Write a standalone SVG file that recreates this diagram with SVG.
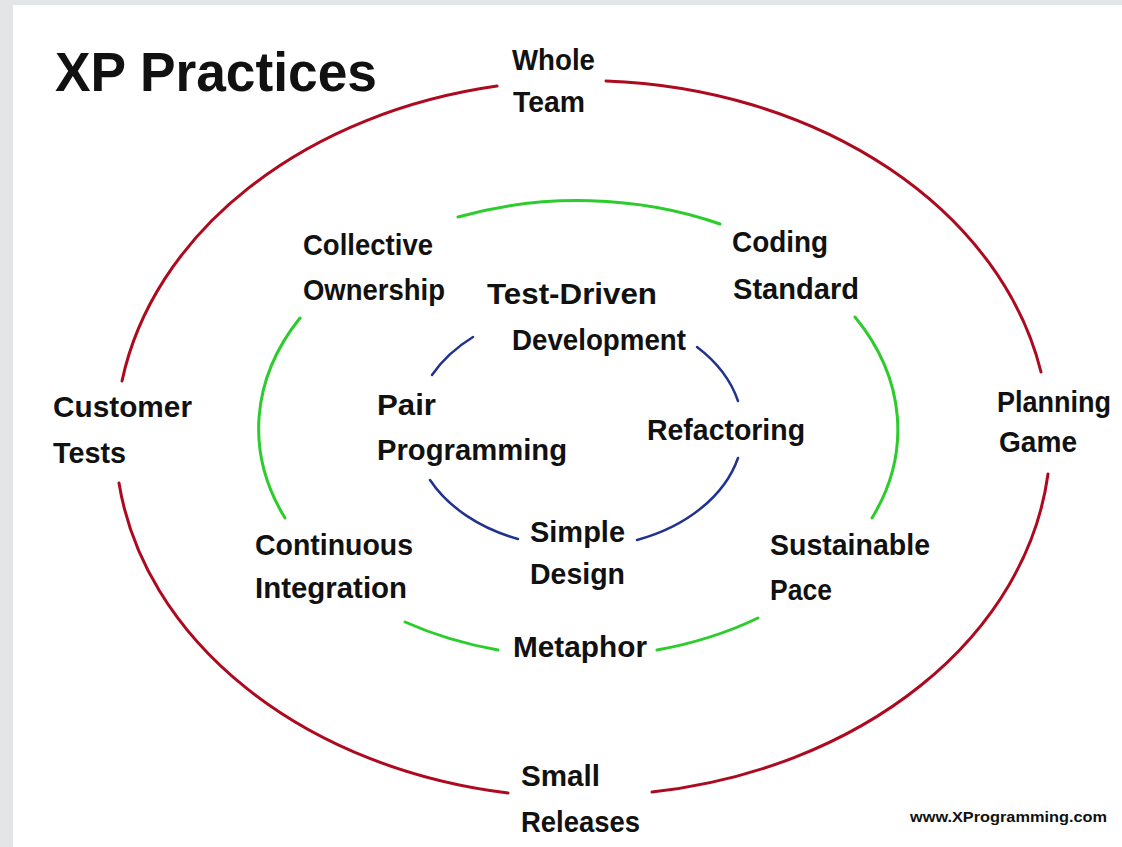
<svg xmlns="http://www.w3.org/2000/svg" width="1122" height="847" viewBox="0 0 1122 847">
<style>
.lbl{font-family:"Liberation Sans","DejaVu Sans",sans-serif;font-weight:bold;font-size:30px;fill:#111}
.title{font-family:"Liberation Sans","DejaVu Sans",sans-serif;font-weight:bold;font-size:56px;fill:#111}
.url{font-family:"Liberation Sans","DejaVu Sans",sans-serif;font-weight:bold;font-size:14px;fill:#111}
.red{fill:none;stroke:#ad0a20;stroke-width:3;stroke-linecap:round}
.green{fill:none;stroke:#2ccc2c;stroke-width:3;stroke-linecap:round}
.blue{fill:none;stroke:#22338f;stroke-width:2.5;stroke-linecap:round}
</style>
<rect x="0" y="0" width="1122" height="847" fill="#e3e5e6"/>
<rect x="13" y="5" width="1109" height="842" fill="#ffffff"/>
<text class="title" x="55" y="91" textLength="322" lengthAdjust="spacingAndGlyphs">XP Practices</text>
<g id="connectors">
<path class="red" d="M606,81 A465,359 0 0 1 1041,372"/>
<path class="red" d="M1048,474 A465,359 0 0 1 652,792"/>
<path class="red" d="M508,793 A465,359 0 0 1 119,483"/>
<path class="red" d="M122,381 A465,359 0 0 1 497,86"/>
<path class="green" d="M458,217 A320,225 0 0 1 720,224"/>
<path class="green" d="M855,317 A320,225 0 0 1 872,518"/>
<path class="green" d="M758,618 A320,225 0 0 1 657,650"/>
<path class="green" d="M498,650 A320,225 0 0 1 405,622"/>
<path class="green" d="M285,518 A320,225 0 0 1 300,318"/>
<path class="blue" d="M432,375 A163,119 0 0 1 473,337"/>
<path class="blue" d="M697,347 A163,119 0 0 1 738,401"/>
<path class="blue" d="M738,458 A163,119 0 0 1 637,540"/>
<path class="blue" d="M518,539 A163,119 0 0 1 430,480"/>
</g>
<g id="whole-team">
<text class="lbl" x="512" y="70" textLength="83" lengthAdjust="spacingAndGlyphs">Whole</text>
<text class="lbl" x="513" y="112" textLength="72" lengthAdjust="spacingAndGlyphs">Team</text>
</g>
<g id="collective-ownership">
<text class="lbl" x="303" y="255" textLength="130" lengthAdjust="spacingAndGlyphs">Collective</text>
<text class="lbl" x="303" y="300" textLength="142" lengthAdjust="spacingAndGlyphs">Ownership</text>
</g>
<g id="coding-standard">
<text class="lbl" x="732" y="252" textLength="96" lengthAdjust="spacingAndGlyphs">Coding</text>
<text class="lbl" x="733" y="299" textLength="126" lengthAdjust="spacingAndGlyphs">Standard</text>
</g>
<g id="test-driven-development">
<text class="lbl" x="487" y="304" textLength="170" lengthAdjust="spacingAndGlyphs">Test-Driven</text>
<text class="lbl" x="512" y="350" textLength="174" lengthAdjust="spacingAndGlyphs">Development</text>
</g>
<g id="pair-programming">
<text class="lbl" x="377" y="415" textLength="59" lengthAdjust="spacingAndGlyphs">Pair</text>
<text class="lbl" x="377" y="460" textLength="190" lengthAdjust="spacingAndGlyphs">Programming</text>
</g>
<g id="refactoring">
<text class="lbl" x="647" y="440" textLength="158" lengthAdjust="spacingAndGlyphs">Refactoring</text>
</g>
<g id="simple-design">
<text class="lbl" x="530" y="542" textLength="95" lengthAdjust="spacingAndGlyphs">Simple</text>
<text class="lbl" x="530" y="584" textLength="95" lengthAdjust="spacingAndGlyphs">Design</text>
</g>
<g id="continuous-integration">
<text class="lbl" x="255" y="555" textLength="158" lengthAdjust="spacingAndGlyphs">Continuous</text>
<text class="lbl" x="255" y="598" textLength="152" lengthAdjust="spacingAndGlyphs">Integration</text>
</g>
<g id="sustainable-pace">
<text class="lbl" x="770" y="555" textLength="160" lengthAdjust="spacingAndGlyphs">Sustainable</text>
<text class="lbl" x="770" y="600" textLength="62" lengthAdjust="spacingAndGlyphs">Pace</text>
</g>
<g id="metaphor">
<text class="lbl" x="513" y="657" textLength="134" lengthAdjust="spacingAndGlyphs">Metaphor</text>
</g>
<g id="customer-tests">
<text class="lbl" x="53" y="417" textLength="139" lengthAdjust="spacingAndGlyphs">Customer</text>
<text class="lbl" x="53" y="463" textLength="73" lengthAdjust="spacingAndGlyphs">Tests</text>
</g>
<g id="planning-game">
<text class="lbl" x="997" y="412" textLength="114" lengthAdjust="spacingAndGlyphs">Planning</text>
<text class="lbl" x="999" y="452" textLength="78" lengthAdjust="spacingAndGlyphs">Game</text>
</g>
<g id="small-releases">
<text class="lbl" x="521" y="786" textLength="79" lengthAdjust="spacingAndGlyphs">Small</text>
<text class="lbl" x="521" y="832" textLength="119" lengthAdjust="spacingAndGlyphs">Releases</text>
</g>
<text class="url" x="910" y="822" textLength="197" lengthAdjust="spacingAndGlyphs">www.XProgramming.com</text>
</svg>
